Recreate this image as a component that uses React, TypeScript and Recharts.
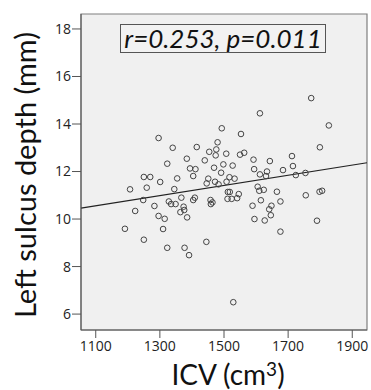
import React from 'react';
import {
  ReferenceArea,
  ReferenceLine,
  Scatter,
  ScatterChart,
  XAxis,
  YAxis,
} from 'recharts';

// ICV (cm3) and left sulcus depth (mm)
const icv = [
  1191, 1207, 1223, 1248, 1250, 1250, 1259, 1270, 1283, 1296, 1296, 1301, 1310,
  1315, 1323, 1323, 1328, 1335, 1340, 1345, 1349, 1354, 1364, 1367, 1374, 1376,
  1377, 1384, 1385, 1391, 1394, 1404, 1404, 1409, 1411, 1415, 1440, 1445, 1446,
  1451, 1454, 1458, 1459, 1464, 1469, 1472, 1474, 1476, 1480, 1483, 1491, 1493,
  1498, 1507, 1508, 1511, 1517, 1518, 1512, 1524, 1529, 1533, 1527, 1541, 1546,
  1550, 1553, 1563, 1589, 1592, 1594, 1595, 1605, 1610, 1612, 1615, 1624, 1627,
  1631, 1634, 1641, 1643, 1646, 1648, 1665, 1676, 1676, 1684, 1712, 1715, 1724,
  1754, 1755, 1790, 1798, 1799, 1806, 1827, 1612, 1772,
];
const depth = [
  9.59, 11.25, 10.34, 10.8, 11.77, 9.13, 11.32, 11.77, 10.55, 13.41, 10.13,
  11.56, 9.58, 10.01, 12.33, 8.79, 10.74, 10.63, 13.0, 11.26, 10.63, 11.71,
  10.29, 10.9, 10.52, 10.38, 8.79, 12.54, 10.07, 8.48, 12.13, 11.81, 10.8, 10.9,
  12.1, 13.03, 12.47, 9.04, 11.5, 11.7, 12.83, 10.8, 10.63, 10.7, 12.16, 11.57,
  12.68, 12.93, 13.23, 11.46, 11.95, 13.82, 12.3, 12.75, 11.57, 10.85, 11.76,
  11.14, 11.14, 10.85, 6.5, 11.7, 12.25, 10.88, 11.05, 12.71, 13.58, 12.79,
  10.56, 12.5, 12.1, 10.0, 11.36, 11.19, 11.88, 10.79, 11.23, 9.94, 11.81, 12.0,
  10.41, 12.44, 10.16, 10.56, 11.15, 10.74, 9.47, 12.06, 12.65, 12.23, 11.85,
  11.94, 11.0, 9.93, 11.15, 13.02, 11.19, 13.94, 14.45, 15.09,
];

// fit line end points (x, y)
const fitX = [1054, 1946];
const fitY = [10.46, 12.37];

const xTicks = [1100, 1300, 1500, 1700, 1900];
const yTicks = [6, 8, 10, 12, 14, 16, 18];
const xDomain = [1054, 1946];
const yDomain = [5.33, 18.63];

const points = icv.map((x, i) => ({ x, y: depth[i] }));

const font = '"Open Sans", "Noto Sans", sans-serif';
const labelFont = 'Lato, "Open Sans", sans-serif';

const Dot = (props: any) => (
  <circle
    cx={props.cx}
    cy={props.cy}
    r={2.8}
    fill='none'
    stroke='#444'
    strokeWidth={1}
  />
);

const App = (): JSX.Element => {
  return (
    <div
      style={{
        position: 'fixed',
        left: 0,
        top: 0,
        width: 371,
        height: 390,
        overflow: 'hidden',
        background: '#fff',
        fontFamily: font,
      }}
    >
      <ScatterChart
        width={371}
        height={390}
        margin={{ top: 14, right: 4, left: 0, bottom: 0 }}
      >
        <ReferenceArea
          x1={xDomain[0]}
          x2={xDomain[1]}
          y1={yDomain[0]}
          y2={yDomain[1]}
          fill='#f0f0f0'
          fillOpacity={1}
          stroke='#7f7f7f'
          strokeWidth={1.2}
        />
        <XAxis
          type='number'
          dataKey='x'
          domain={xDomain}
          ticks={xTicks}
          allowDataOverflow
          height={60}
          tickSize={8}
          tickMargin={3}
          stroke='#555'
          tick={{ fill: '#222', fontSize: 14, fontFamily: font }}
        />
        <YAxis
          type='number'
          dataKey='y'
          domain={yDomain}
          ticks={yTicks}
          allowDataOverflow
          width={81}
          tickSize={9}
          tickMargin={1}
          stroke='#555'
          tick={{ fill: '#222', fontSize: 14, fontFamily: font }}
        />
        <ReferenceLine
          segment={[
            { x: fitX[0], y: fitY[0] },
            { x: fitX[1], y: fitY[1] },
          ]}
          stroke='#222'
          strokeWidth={1.2}
        />
        <Scatter data={points} shape={Dot} isAnimationActive={false} />
      </ScatterChart>
      <div
        style={{
          position: 'absolute',
          left: 120,
          top: 24,
          width: 206,
          height: 29,
          boxSizing: 'border-box',
          border: '1px solid #555',
          background: '#f2f2f2',
          fontStyle: 'italic',
          fontFamily: labelFont,
          fontSize: 26,
          lineHeight: '27px',
          textAlign: 'center',
          color: '#111',
        }}
      >
        r=0.253, p=0.011
      </div>
      <div
        style={{
          position: 'absolute',
          left: 24,
          top: 175,
          transform: 'translate(-50%, -50%) rotate(-90deg)',
          whiteSpace: 'nowrap',
          fontFamily: labelFont,
          fontSize: 29,
          lineHeight: 1,
          color: '#111',
        }}
      >
        Left sulcus depth (mm)
      </div>
      <div
        style={{
          position: 'absolute',
          left: 228,
          top: 360,
          transform: 'translateX(-50%)',
          whiteSpace: 'nowrap',
          fontFamily: labelFont,
          fontSize: 28,
          lineHeight: '28px',
          height: 28,
          color: '#111',
        }}
      >
        ICV (cm
        <span style={{ fontSize: 19, verticalAlign: 9, lineHeight: 0 }}>3</span>)
      </div>
    </div>
  );
};

export default App;
